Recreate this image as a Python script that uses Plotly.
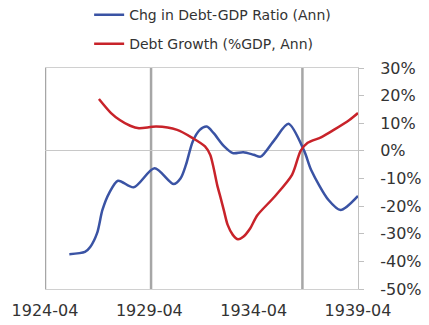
import plotly.graph_objects as go

# ------------ data ------------
blue_dates = ["1925-06-01", "1926-03-01", "1926-06-01", "1926-10-01", "1927-01-01",
              "1927-05-01", "1927-10-01", "1928-07-01", "1929-07-01", "1930-06-01",
              "1930-10-01", "1931-01-01", "1931-05-01", "1931-09-01", "1932-01-01",
              "1932-05-01", "1932-11-01", "1933-04-01", "1933-10-01", "1934-04-01",
              "1934-08-01", "1935-04-01", "1935-12-01", "1936-09-01", "1937-01-01",
              "1937-11-01", "1938-06-01", "1939-04-01"]
blue_vals = [-37.4, -36.6, -34.8, -29.7, -21.4,
             -15.2, -10.8, -13.2, -6.3, -12.0,
             -9.9, -5.1, 3.4, 7.6, 8.8,
             6.4, 1.6, -0.8, -0.5, -1.4,
             -2.1, 4.0, 9.8, 0.0, -6.9,
             -17.8, -21.4, -16.3]

red_dates = ["1926-11-01", "1927-06-01", "1927-11-01", "1928-05-01", "1928-10-01",
             "1929-08-01", "1930-08-01", "1931-05-01", "1931-12-01", "1932-03-01",
             "1932-05-01", "1932-07-01", "1932-09-01", "1932-11-01", "1933-01-01",
             "1933-04-01", "1933-07-01", "1933-10-01", "1934-02-01", "1934-06-01",
             "1935-04-01", "1936-02-01", "1936-07-01", "1936-11-01",
             "1937-07-01", "1938-02-01", "1938-11-01", "1939-04-01"]
red_vals = [18.8, 13.7, 11.2, 9.1, 8.2,
            8.8, 7.6, 4.6, 1.6, -1.4,
            -6.3, -12.3, -17.1, -22.0, -26.8,
            -30.4, -32.0, -31.1, -28.0, -23.4,
            -16.6, -8.7, 0.0, 2.9,
            5.0, 7.6, 11.2, 13.7]

event_dates = ["1924-04-01", "1929-05-01", "1936-08-01"]
tick_dates = ["1924-04-01", "1929-04-01", "1934-04-01", "1939-04-01"]
tick_text = ["1924-04", "1929-04", "1934-04", "1939-04"]
y_ticks = [30, 20, 10, 0, -10, -20, -30, -40, -50]
y_text = ["30%", "20%", "10%", "0%", "-10%", "-20%", "-30%", "-40%", "-50%"]

FONT = "DejaVu Sans"

fig = go.Figure()
fig.add_trace(go.Scatter(x=blue_dates, y=blue_vals, mode="lines", name="Chg in Debt-GDP Ratio (Ann)",
                         line=dict(color="#3A53A4", width=2.5, shape="spline", smoothing=0.8),
                         legendgroup="a"))
fig.add_trace(go.Scatter(x=red_dates, y=red_vals, mode="lines", name="Debt Growth (%GDP, Ann)",
                         line=dict(color="#C8232A", width=2.5, shape="spline", smoothing=0.8),
                         legendgroup="b"))

# grey vertical marker lines
for d in event_dates:
    fig.add_shape(type="line", x0=d, x1=d, y0=0, y1=1, xref="x", yref="paper",
                  line=dict(color="#A6A6A6", width=2.5), layer="below")

fig.update_layout(
    width=429, height=325,
    margin=dict(l=45, r=71, t=68, b=36, autoexpand=False),
    paper_bgcolor="white", plot_bgcolor="white",
    font=dict(family=FONT, size=16, color="#333333"),
    showlegend=True,
    legend=dict(x=0.141, y=1.312, xanchor="left", yanchor="top",
                traceorder="grouped", tracegroupgap=8, font=dict(size=14), bgcolor="rgba(0,0,0,0)"),
    xaxis=dict(type="date", range=["1924-04-01", "1939-04-01"], tickmode="array",
               tickvals=tick_dates, ticktext=tick_text, showgrid=False, showline=True,
               linecolor="#D0D0D0", linewidth=1, mirror=True, ticks="outside", ticklen=7,
               tickcolor="rgba(0,0,0,0)", automargin=False),
    yaxis=dict(side="right", range=[-50, 30], tickmode="array", tickvals=y_ticks, ticktext=y_text,
               showgrid=False, zeroline=True, zerolinecolor="#C8C8C8", zerolinewidth=1,
               showline=True, linecolor="#C0C0C0", linewidth=1,
               ticks="outside", ticklen=5, tickcolor="#C0C0C0", automargin=False,
               ticklabelstandoff=13),
)

# page body has a default 8px margin; drop it so the figure sits at the window origin
fig.write_html("out.html", config={"displayModeBar": False},
               post_script="document.body.style.margin='0';")
